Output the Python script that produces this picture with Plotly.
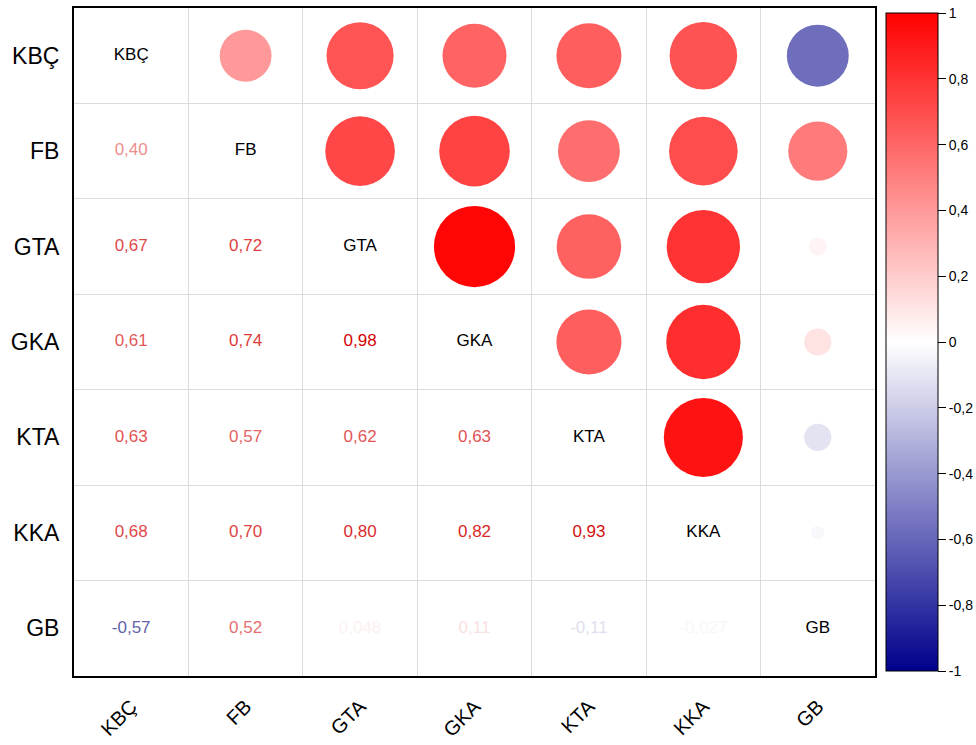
import numpy as np
import plotly.graph_objects as go
from plotly.colors import sample_colorscale

labels = ["KBÇ", "FB", "GTA", "GKA", "KTA", "KKA", "GB"]
# correlation matrix (symmetric)
corr = [
    [1.00, 0.40, 0.67, 0.61, 0.63, 0.68, -0.57],
    [0.40, 1.00, 0.72, 0.74, 0.57, 0.70, 0.52],
    [0.67, 0.72, 1.00, 0.98, 0.62, 0.80, 0.048],
    [0.61, 0.74, 0.98, 1.00, 0.63, 0.82, 0.11],
    [0.63, 0.57, 0.62, 0.63, 1.00, 0.93, -0.11],
    [0.68, 0.70, 0.80, 0.82, 0.93, 1.00, -0.027],
    [-0.57, 0.52, 0.048, 0.11, -0.11, -0.027, 1.00],
]
cbar_vals = [-1, -0.8, -0.6, -0.4, -0.2, 0, 0.2, 0.4, 0.6, 0.8, 1]
cbar_text = ["-1", "-0,8", "-0,6", "-0,4", "-0,2", "0", "0,2", "0,4", "0,6", "0,8", "1"]

cscale = [[0.0, "rgb(0,0,140)"], [0.5, "rgb(255,255,255)"], [1.0, "rgb(255,0,0)"]]
n = len(labels)

def fmt(v):
    s = f"{v:.2f}" if abs(v) >= 0.1 else f"{v:.3f}".rstrip("0")
    return s.replace(".", ",")

def to_rgb(s):
    s = s.strip()
    if s.startswith("#"):
        return [int(s[k:k + 2], 16) for k in (1, 3, 5)]
    return [float(p) for p in s[s.index("(") + 1:s.index(")")].split(",")]

ux, uy, uc, us = [], [], [], []
lx, ly, lt, lcol = [], [], [], []
dx, dy, dt = [], [], []
for i in range(n):
    for j in range(n):
        v = corr[i][j]
        if i == j:
            dx.append(j); dy.append(i); dt.append(labels[i])
        elif j > i:
            ux.append(j); uy.append(i); uc.append(v); us.append(82 * np.sqrt(abs(v)))
        else:
            lx.append(j); ly.append(i); lt.append(fmt(v))
            c = to_rgb(sample_colorscale(cscale, [(v + 1) / 2])[0])
            f = 1 - 0.18 * abs(v)
            lcol.append("rgb({},{},{})".format(*[int(round(x * f)) for x in c]))

fig = go.Figure()
fig.add_trace(go.Scatter(
    x=ux, y=uy, mode="markers",
    marker=dict(size=us, color=uc, cmin=-1, cmax=1, colorscale=cscale,
                line=dict(width=0), opacity=1,
                colorbar=dict(
                    tickvals=cbar_vals, ticktext=cbar_text,
                    x=1.0137, xanchor="left", xpad=0, ypad=0,
                    y=0.5, yanchor="middle", len=0.985, lenmode="fraction",
                    thickness=52, thicknessmode="pixels",
                    outlinecolor="black", outlinewidth=1,
                    ticks="outside", ticklen=8, tickcolor="black",
                    tickfont=dict(size=14, color="black", family="Liberation Sans"),
                )),
    hoverinfo="skip", showlegend=False))
fig.add_trace(go.Scatter(
    x=lx, y=ly, mode="text", text=lt,
    textfont=dict(size=17, color=lcol, family="Liberation Sans"),
    hoverinfo="skip", showlegend=False))
fig.add_trace(go.Scatter(
    x=dx, y=dy, mode="text", text=dt,
    textfont=dict(size=17, color="black", family="Liberation Sans"),
    hoverinfo="skip", showlegend=False))

half = [k + 0.5 for k in range(n - 1)]
fig.update_xaxes(
    range=[-0.5, n - 0.5], tickvals=list(range(n)), ticktext=labels,
    tickangle=-45, tickfont=dict(size=20, color="black", family="Liberation Sans"),
    showgrid=False, zeroline=False, automargin=False,
    showline=True, mirror=True, linecolor="black", linewidth=2,
    ticks="", ticklabelstandoff=9,
    minor=dict(tickvals=half, showgrid=True, gridcolor="#dcdcdc", gridwidth=1, ticks=""),
)
fig.update_yaxes(
    range=[n - 0.5, -0.5], tickvals=list(range(n)), ticktext=labels,
    tickfont=dict(size=23, color="black", family="Liberation Sans"),
    showgrid=False, zeroline=False, automargin=False,
    showline=True, mirror=True, linecolor="black", linewidth=2,
    ticks="", ticklabelstandoff=8,
    minor=dict(tickvals=half, showgrid=True, gridcolor="#dcdcdc", gridwidth=1, ticks=""),
)
fig.update_layout(
    width=976, height=745,
    margin=dict(l=74, r=101, t=8, b=69, autoexpand=False),
    plot_bgcolor="white", paper_bgcolor="white",
    font=dict(family="Liberation Sans"),
)
fig.write_html("out.html")
